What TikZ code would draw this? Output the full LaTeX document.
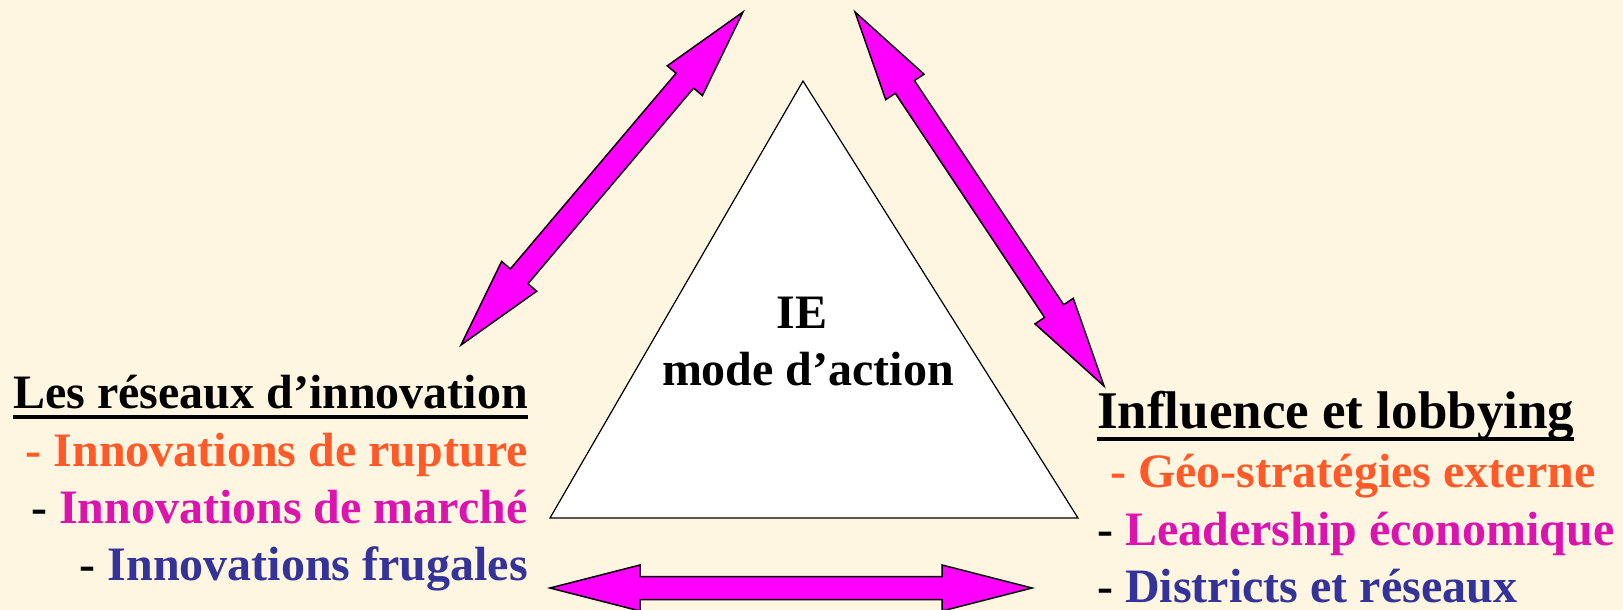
\documentclass[tikz,border=0pt]{standalone}
\usepackage{fontspec}
\setmainfont{Liberation Serif}
\usetikzlibrary{calc}
\definecolor{bg}{HTML}{FFF6E1}
\definecolor{orangetext}{HTML}{FF5A28}
\definecolor{magtext}{HTML}{DC14AF}
\definecolor{bluetext}{HTML}{333399}
\definecolor{arrowfill}{HTML}{FF00FF}
\newcommand\headlen{90pt}
\newcommand\headhw{23pt}
\newcommand\shafthw{11.5pt}
\newcommand\dblarrow[2]{%
  \coordinate (h1) at ($(#1)!\headlen!(#2)$);
  \coordinate (h2) at ($(#2)!\headlen!(#1)$);
  \draw[blockarrow] (#1) -- ($(h1)!\headhw!90:(#1)$) -- ($(h1)!\shafthw!90:(#1)$)
    -- ($(h2)!\shafthw!-90:(#2)$) -- ($(h2)!\headhw!-90:(#2)$) -- (#2)
    -- ($(h2)!\headhw!90:(#2)$) -- ($(h2)!\shafthw!90:(#2)$)
    -- ($(h1)!\shafthw!-90:(#1)$) -- ($(h1)!\headhw!-90:(#1)$) -- cycle;}
\begin{document}
\begin{tikzpicture}[x=1pt,y=-1pt,
  txt/.style={font=\fontsize{48}{58}\selectfont\bfseries, inner sep=0pt},
  bigtxt/.style={font=\fontsize{53}{64}\selectfont\bfseries, inner sep=0pt},
  uline/.style={line width=3.5pt, black},
  tri/.style={draw=black, fill=white, line width=1.2pt, line join=miter},
  blockarrow/.style={draw=black, fill=arrowfill, line width=1.5pt, line join=miter}]
\fill[bg] (0,0) rectangle (1623,610);
\useasboundingbox (0,0) rectangle (1623,610);

% triangle
\coordinate (apex) at (803,81);
\coordinate (bl) at (550,518);
\coordinate (br) at (1078,518);
\draw[tri] (apex) -- (bl) -- (br) -- cycle;
\node[txt, anchor=base] (ie) at (802,328) {IE};
\node[txt, anchor=base] (mode) at (808,385) {mode d’action};

% left block
\node[txt, anchor=base east] (ltitle) at (528,408) {Les réseaux d’innovation};
\draw[uline] ([yshift=-9pt]ltitle.base west) -- ([yshift=-9pt]ltitle.base east);
\node[txt, anchor=base east, text=orangetext] (l1) at (528,466) {- Innovations de rupture};
\node[txt, anchor=base east] (l2) at (528,523) {- \textcolor{magtext}{Innovations de marché}};
\node[txt, anchor=base east] (l3) at (528,580) {- \textcolor{bluetext}{Innovations frugales}};

% right block
\node[bigtxt, anchor=base west] (rtitle) at (1097,428) {Influence et lobbying};
\draw[uline] ([yshift=-11pt]rtitle.base west) -- ([yshift=-11pt]rtitle.base east);
\node[txt, anchor=base west, text=orangetext] (r1) at (1110,487) {- Géo-stratégies externe};
\node[txt, anchor=base west] (r2) at (1097,545) {- \textcolor{magtext}{Leadership économique}};
\node[txt, anchor=base west] (r3) at (1097,602) {- \textcolor{bluetext}{Districts et réseaux}};

% arrows
\coordinate (a1s) at (461,345);
\coordinate (a1e) at (743,12);
\coordinate (a2s) at (855,12);
\coordinate (a2e) at (1104,386);
\coordinate (a3s) at (550,588);
\coordinate (a3e) at (1032,588);
\dblarrow{a1s}{a1e}
\dblarrow{a2s}{a2e}
\dblarrow{a3s}{a3e}
\end{tikzpicture}
\end{document}
